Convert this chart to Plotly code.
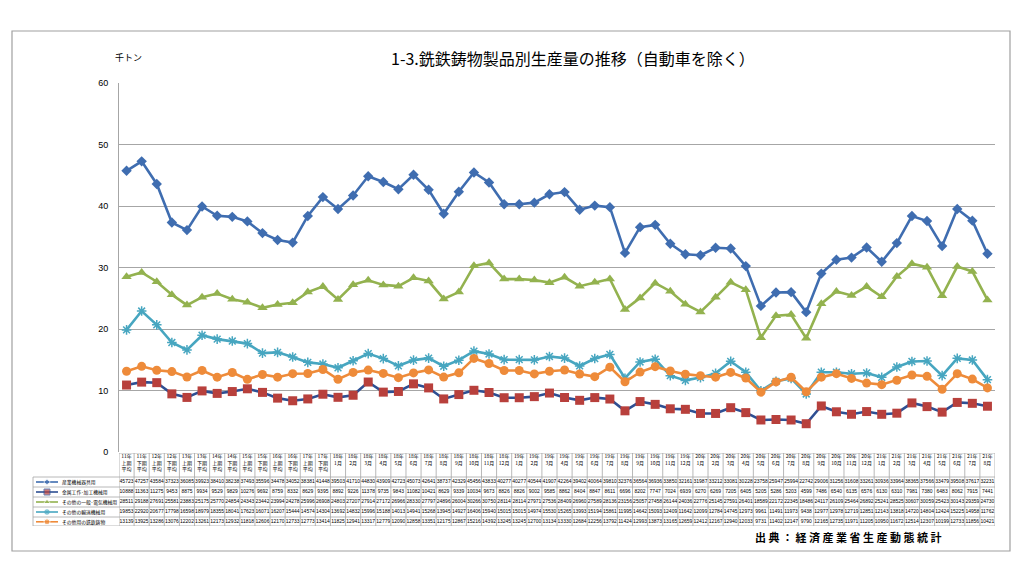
import plotly.graph_objects as go

# ---------------- data ----------------
years = ["11年", "11年", "12年", "12年", "13年", "13年", "14年", "14年", "15年", "15年",
         "16年", "16年", "17年", "17年"] + ["18年"] * 12 + ["19年"] * 12 + ["20年"] * 12 + ["21年"] * 8
periods = ["上期<br>平均", "下期<br>平均"] * 7 + [f"{m}月" for m in range(1, 13)] * 3 + [f"{m}月" for m in range(1, 9)]
categories = [y + p.replace("<br>", "") for y, p in zip(years, periods)]

series_names = ["産業機械器具用", "金属工作･加工機械用", "その他の一般･電気機械用", "その他の輸送機械用", "その他用の銑鉄鋳物"]

sangyo = [45723, 47257, 43584, 37323, 36085, 39923, 38410, 38238, 37493, 35596, 34478, 34052, 38381, 41448,
          39503, 41710, 44830, 43909, 42723, 45073, 42641, 38737, 42329, 45456, 43833, 40277,
          40277, 40544, 41907, 42264, 39402, 40064, 39810, 32376, 36564, 36936, 33850, 32161,
          31987, 33212, 33081, 30228, 23758, 25947, 25994, 22742, 29006, 31256, 31608, 33261,
          30936, 33964, 38365, 37566, 33479, 39508, 37617, 32231]
kinzoku = [10888, 11363, 11275, 9453, 8875, 9934, 9529, 9829, 10276, 9692, 8759, 8332, 8629, 9395,
           8892, 9226, 11378, 9735, 9843, 11082, 10421, 8629, 9339, 10034, 9673, 8826,
           8826, 9002, 9585, 8862, 8404, 8847, 8611, 6696, 8202, 7747, 7024, 6939,
           6270, 6269, 7205, 6405, 5205, 5286, 5203, 4599, 7486, 6540, 6135, 6576,
           6130, 6310, 7981, 7380, 6483, 8062, 7915, 7441]
ippan = [28511, 29188, 27691, 25581, 23883, 25175, 25770, 24854, 24343, 23442, 23994, 24278, 25996, 26908,
         24803, 27207, 27914, 27172, 26966, 28330, 27797, 24896, 26004, 30266, 30750, 28114,
         28114, 27971, 27536, 28409, 26960, 27589, 28136, 23156, 25057, 27458, 26144, 24036,
         22776, 25145, 27591, 26401, 18589, 22172, 22345, 18486, 24117, 26109, 25464, 26892,
         25241, 28525, 30607, 30059, 25423, 30143, 29359, 24730]
yuso = [19853, 22920, 20677, 17798, 16598, 18979, 18355, 18041, 17623, 16071, 16207, 15444, 14574, 14304,
        13692, 14832, 15996, 15188, 14013, 14941, 15268, 13945, 14927, 16406, 15940, 15015,
        15015, 14974, 15530, 15265, 13993, 15194, 15861, 11995, 14642, 15093, 12409, 11642,
        12099, 12784, 14745, 12973, 9961, 11491, 11973, 9438, 12977, 12978, 12719, 12851,
        12143, 13818, 14720, 14804, 12424, 15225, 14958, 11762]
sonota = [13139, 13925, 13286, 13076, 12202, 13261, 12173, 12932, 11818, 12606, 12170, 12733, 12773, 13414,
          11825, 12941, 13317, 12779, 12090, 12858, 13351, 12175, 12867, 15216, 14392, 13245,
          13245, 12700, 13134, 13330, 12684, 12256, 13792, 11424, 12993, 13873, 13165, 12659,
          12412, 12167, 12940, 12033, 9731, 11402, 12147, 9790, 12165, 12735, 11971, 11205,
          10950, 11672, 12514, 12307, 10199, 12733, 11856, 10421]

all_series = [sangyo, kinzoku, ippan, yuso, sonota]

# ---------------- styles ----------------
line_colors = ["#3F6DB0", "#2E4F93", "#93B24F", "#47A6C0", "#EE8B3A"]
marker_colors = ["#3F6DB0", "#B8403C", "#93B24F", "#47A6C0", "#EE8B3A"]
symbols = ["diamond", "square", "triangle-up", "asterisk-open", "circle"]
msizes = [8, 9, 9, 8, 9]

# page places the figure at (8, 8); layout given in screen pixels then shifted
OFF = 8
W, H = 1008, 564
PLOT_L, PLOT_R, PLOT_T, PLOT_B = 33, 995, 83, 526   # screen px of the whole plotting region
L = PLOT_L - OFF
R = W - (PLOT_R - OFF)
T = PLOT_T - OFF
B = H - (PLOT_B - OFF)
PW, PH = W - L - R, H - T - B


def px_x(px):
    return (px - PLOT_L) / PW


def px_y(py):
    return (PLOT_B - py) / PH


x_main0 = px_x(119)
y_main0 = px_y(452)
y_tab1 = px_y(453)

fig = go.Figure()

for i, (name, vals) in enumerate(zip(series_names, all_series)):
    mk = dict(symbol=symbols[i], size=msizes[i], color=marker_colors[i])
    if symbols[i] == "asterisk-open":
        mk["line"] = dict(color=marker_colors[i], width=1.5)
    fig.add_trace(go.Scatter(
        x=categories, y=[v / 1000 for v in vals], name=name, mode="lines+markers",
        line=dict(color=line_colors[i], width=2.6), marker=mk,
        xaxis="x", yaxis="y", showlegend=False))

# ---------------- table ----------------
header_text = [f"{y}<br>{p}" for y, p in zip(years, periods)]
fig.add_trace(go.Scatter(
    x=categories, y=[1.5] * len(categories), mode="text", text=header_text,
    textposition="bottom center",
    textfont=dict(family="Noto Sans CJK JP", size=5, color="#000000"),
    xaxis="x", yaxis="y2", showlegend=False, hoverinfo="skip", cliponaxis=False))

row_centers = [29, 39, 49, 59, 68.8]
for r, vals in enumerate(all_series):
    fig.add_trace(go.Scatter(
        x=categories, y=[row_centers[r]] * len(categories), mode="text",
        text=[str(v) for v in vals], textposition="middle center",
        textfont=dict(family="Liberation Sans", size=5, color="#000000"),
        xaxis="x", yaxis="y2", showlegend=False, hoverinfo="skip", cliponaxis=False))

# legend column samples (line with a single marker in the middle)
for r in range(5):
    mk = dict(symbol=symbols[r], size=[0, msizes[r] - 3, 0], color=marker_colors[r])
    if symbols[r] == "asterisk-open":
        mk["line"] = dict(color=marker_colors[r], width=1.2)
    fig.add_trace(go.Scatter(
        x=[36, 47, 58], y=[row_centers[r]] * 3, mode="lines+markers",
        line=dict(color=line_colors[r], width=1.6), marker=mk,
        xaxis="x3", yaxis="y2", showlegend=False, hoverinfo="skip", cliponaxis=False))

shapes = []
grid = "#A6A6A6"
n = len(categories)
for i in range(n + 1):
    shapes.append(dict(type="line", xref="x", yref="y2", x0=i - 0.5, x1=i - 0.5, y0=0, y1=73,
                       line=dict(color=grid, width=0.8)))
shapes.append(dict(type="line", xref="x", yref="y2", x0=-0.5, x1=n - 0.5, y0=0, y1=0,
                   line=dict(color=grid, width=0.8)))
for yy in [24, 34, 44, 54, 64, 73]:
    shapes.append(dict(type="line", xref="paper", yref="y2", x0=0, x1=1, y0=yy, y1=yy,
                       line=dict(color=grid, width=0.8)))
shapes.append(dict(type="line", xref="paper", yref="y2", x0=0, x1=0, y0=24, y1=73,
                   line=dict(color=grid, width=0.8)))
# outer frame
shapes.append(dict(type="rect", xref="paper", yref="paper", x0=px_x(12), x1=px_x(1010),
                   y0=px_y(551), y1=px_y(31), line=dict(color="#A0A0A0", width=1.2)))

annotations = []
for r, name in enumerate(series_names):
    annotations.append(dict(xref="x3", yref="y2", x=60, y=row_centers[r], text=name,
                            xanchor="left", yanchor="middle", showarrow=False,
                            font=dict(family="Noto Sans CJK JP", size=4.8, color="#000000")))
annotations.append(dict(xref="paper", yref="paper", x=px_x(573), y=px_y(58),
                        text="1-3.銑鉄鋳物製品別生産量の推移（自動車を除く）", showarrow=False,
                        xanchor="center", yanchor="middle",
                        font=dict(family="Noto Sans CJK JP", size=16, color="#000000")))
annotations.append(dict(xref="paper", yref="paper", x=px_x(128), y=px_y(58),
                        text="千トン", showarrow=False, xanchor="center", yanchor="middle",
                        font=dict(family="Noto Sans CJK JP", size=9, color="#000000")))
annotations.append(dict(xref="paper", yref="paper", x=px_x(848), y=px_y(537),
                        text="<b>" + " ".join("出典：経済産業省生産動態統計") + "</b>",
                        showarrow=False, xanchor="center", yanchor="middle",
                        font=dict(family="Noto Sans CJK JP", size=11, color="#000000")))

fig.update_layout(
    width=W, height=H, margin=dict(l=L, r=R, t=T, b=B),
    paper_bgcolor="white", plot_bgcolor="rgba(0,0,0,0)",
    showlegend=False,
    xaxis=dict(domain=[x_main0, 1], type="category", categoryorder="array", categoryarray=categories,
               range=[-0.5, n - 0.5], showticklabels=False, showgrid=False, zeroline=False,
               showline=False, anchor="y", fixedrange=True),
    yaxis=dict(domain=[y_main0, 1], range=[0, 60], dtick=10, anchor="x",
               showgrid=True, gridcolor="#A6A6A6", gridwidth=1, zeroline=False,
               showline=True, linecolor="#A6A6A6", linewidth=1,
               tickfont=dict(family="Liberation Sans", size=9, color="#000000"),
               ticklabelstandoff=8),
    yaxis2=dict(domain=[0, y_tab1], range=[73, 0], anchor="x", showticklabels=False,
                showgrid=False, zeroline=False, showline=False),
    xaxis3=dict(domain=[0, x_main0], range=[PLOT_L, 119], anchor="y2", showticklabels=False,
                showgrid=False, zeroline=False, showline=False),
    shapes=shapes, annotations=annotations,
)

fig.write_html("out.html")
